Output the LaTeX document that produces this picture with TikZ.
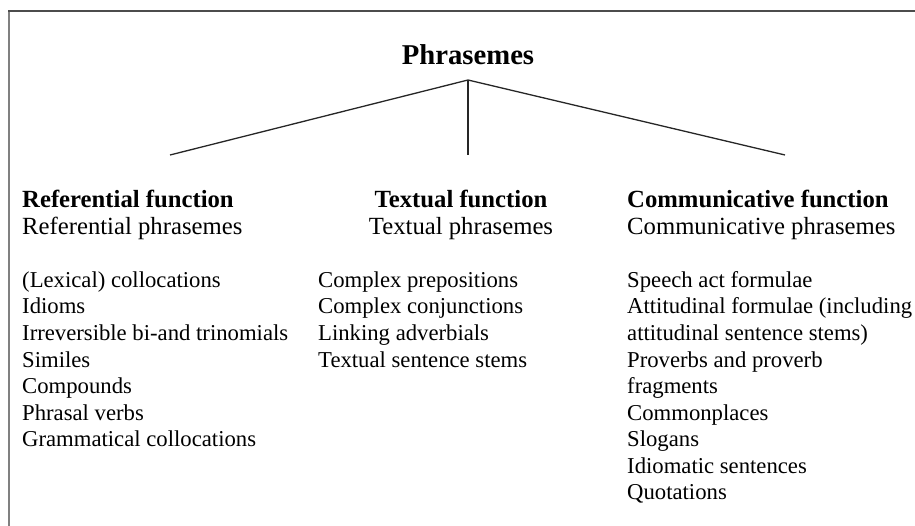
\documentclass[tikz,border=0pt]{standalone}
\usepackage{fontspec}
\setmainfont{Liberation Serif}
\usetikzlibrary{positioning}

\tikzset{
  item/.style={anchor=base west, inner sep=0pt, font=\fontsize{22.7}{26.5}\selectfont},
  sub/.style={item, font=\fontsize{24.7}{26.5}\selectfont},
  head/.style={item, font=\fontsize{24.7}{26.5}\selectfont\bfseries},
  branch/.style={line width=1.3pt, black!85}
}

\begin{document}
\begin{tikzpicture}[x=1pt,y=-1pt]
\useasboundingbox (0,0) rectangle (915,526);
% frame
\draw[black!50, line width=1.3pt] (9,526) -- (9,11);
\draw[black!70, line width=1.3pt] (8.35,11) -- (915,11);

% root and branches
\node[inner sep=0pt, anchor=base, font=\fontsize{28.7}{32}\selectfont\bfseries] (root) at (468,65) {Phrasemes};
\coordinate (apex) at (468,80);
\coordinate (leafref) at (170,155);
\coordinate (leaftext) at (468,155);
\coordinate (leafcomm) at (785,155);
\draw[branch] (leafref) -- (apex) -- (leafcomm);
\draw[branch] (apex) -- (leaftext);

% referential
\node[head] (refhead) at (22,208) {Referential function};
\node[sub] (refsub) at (22,234.5) {Referential phrasemes};
\foreach \t [count=\i] in {(Lexical) collocations, Idioms, Irreversible bi-and trinomials,
    Similes, Compounds, Phrasal verbs, Grammatical collocations}{
  \node[item] (ref\i) at (22,{287.5+26.5*(\i-1)}) {\t};
}

% textual
\node[head, anchor=base] (texthead) at (461,208) {Textual function};
\node[sub, anchor=base] (textsub) at (461,234.5) {Textual phrasemes};
\foreach \t [count=\i] in {Complex prepositions, Complex conjunctions, Linking adverbials,
    Textual sentence stems}{
  \node[item] (text\i) at (318,{287.5+26.5*(\i-1)}) {\t};
}

% communicative
\node[head] (commhead) at (627,208) {Communicative function};
\node[sub] (commsub) at (627,234.5) {Communicative phrasemes};
\foreach \t [count=\i] in {Speech act formulae, Attitudinal formulae (including,
    attitudinal sentence stems), Proverbs and proverb, fragments, Commonplaces,
    Slogans, Idiomatic sentences, Quotations}{
  \node[item] (comm\i) at (627,{287.5+26.5*(\i-1)}) {\t};
}
\end{tikzpicture}
\end{document}
